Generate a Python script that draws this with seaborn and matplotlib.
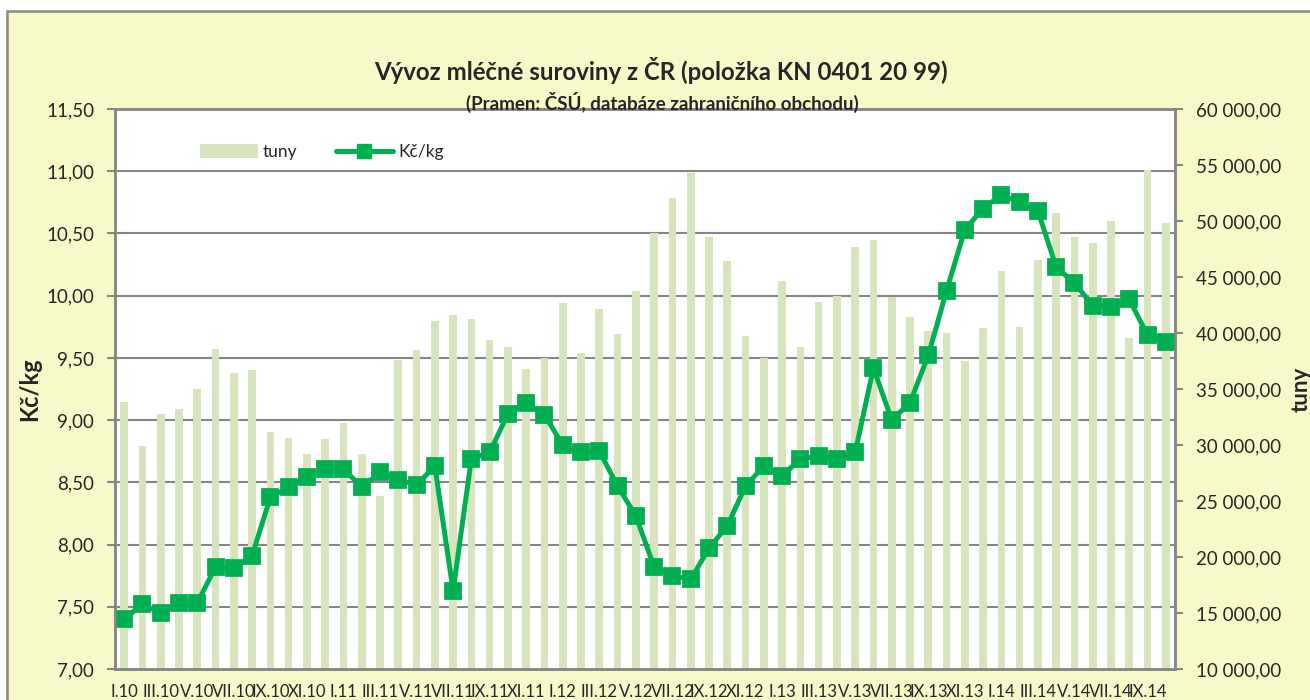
import numpy as np
import pandas as pd
import matplotlib
matplotlib.use('Agg')
import matplotlib.pyplot as plt
import seaborn as sns
from matplotlib.patches import Patch, Rectangle
from matplotlib.lines import Line2D
from matplotlib.ticker import FuncFormatter

# months I.10 .. X.14
roman = ['I', 'II', 'III', 'IV', 'V', 'VI', 'VII', 'VIII', 'IX', 'X', 'XI', 'XII']
years = ['10', '11', '12', '13', '14']
months = [f'{r}.{y}' for y in years for r in roman][:58]

# export price, Kč/kg
kc_kg = [7.40, 7.52, 7.45, 7.53, 7.53, 7.82, 7.81, 7.91, 8.38, 8.46, 8.54, 8.61,
         8.61, 8.46, 8.58, 8.52, 8.48, 8.63, 7.63, 8.69, 8.74, 9.05, 9.14, 9.04,
         8.80, 8.74, 8.75, 8.47, 8.23, 7.82, 7.75, 7.72, 7.97, 8.15, 8.47, 8.63,
         8.55, 8.69, 8.71, 8.69, 8.74, 9.42, 9.00, 9.14, 9.52, 10.04, 10.53, 10.70,
         10.81, 10.75, 10.68, 10.23, 10.10, 9.92, 9.91, 9.97, 9.68, 9.63]

# export volume, tonnes
tuny = [33830, 29870, 32730, 33170, 34960, 38560, 36470, 36710, 31180, 30590, 29240, 30560,
        31990, 29240, 25490, 37600, 38490, 41110, 41580, 41290, 39360, 38760, 36770, 37810,
        42710, 38190, 42110, 39890, 43750, 48940, 52060, 54330, 48530, 46390, 39730, 37780,
        44670, 38760, 42770, 43300, 47640, 48300, 43240, 41470, 40190, 40040, 37510, 40420,
        45530, 40570, 46480, 50670, 48590, 48000, 49960, 39590, 54530, 49840]

df = pd.DataFrame({'mesic': months, 'kc_kg': kc_kg, 'tuny': tuny})

left_ticks = np.arange(7.0, 11.51, 0.5)
right_ticks = np.arange(10000, 60001, 5000)

BG = '#F7FAC8'
GRID = '#868686'
BAR = '#D7E4BD'
LINE = '#00B050'

sns.set_style('white')
plt.rcParams['font.family'] = ['Lato', 'DejaVu Sans']

fig = plt.figure(figsize=(13.1, 7.0), dpi=100)
fig.patch.set_facecolor('white')
# chart area frame, behind everything
fig.patches.append(Rectangle((7 / 1310, -0.05), 1.1, 1 - 11 / 700 + 0.05, transform=fig.transFigure,
                             facecolor=BG, edgecolor=GRID, linewidth=1.8, zorder=-10))

ax_bar = fig.add_axes([115 / 1310, 1 - 669 / 700, 1060 / 1310, 560 / 700])
ax_bar.set_facecolor('white')
sns.barplot(data=df, x='mesic', y='tuny', ax=ax_bar, color=BAR, width=0.42,
            saturation=1, edgecolor='none')
ax_bar.set_ylim(10000, 60000)

ax_line = ax_bar.twinx()
sns.pointplot(data=df, x='mesic', y='kc_kg', ax=ax_line, color=LINE, markers='s',
              linestyles='-', errorbar=None, markersize=10, linewidth=3.6)
ax_line.set_ylim(7.0, 11.5)

# axes sides: price on the left, tonnes on the right
ax_line.yaxis.tick_left()
ax_line.yaxis.set_label_position('left')
ax_bar.yaxis.tick_right()
ax_bar.yaxis.set_label_position('right')

for a in (ax_bar, ax_line):
    a.set_xlim(-0.5, len(months) - 0.5)
    a.set_xlabel('')
    a.set_ylabel('')

# grid follows the left axis, drawn behind the bars
grid_vals = 10000 + (left_ticks - 7.0) * (50000 / 4.5)
ax_bar.set_yticks(grid_vals, minor=True)
ax_bar.grid(which='minor', axis='y', color=GRID, linewidth=1.5)
ax_bar.set_axisbelow(True)
ax_bar.tick_params(axis='y', which='minor', length=0)

ax_bar.set_yticks(right_ticks)
ax_bar.yaxis.set_major_formatter(FuncFormatter(
    lambda v, p: f'{v:,.2f}'.replace(',', ' ').replace('.', ',')))
ax_line.set_yticks(left_ticks)
ax_line.yaxis.set_major_formatter(FuncFormatter(lambda v, p: f'{v:.2f}'.replace('.', ',')))

# x labels every second month, ticks on category boundaries
ax_bar.set_xticks(np.arange(0, len(months), 2))
ax_bar.set_xticklabels(months[::2])
ax_bar.set_xticks(np.arange(-0.5, len(months), 2), minor=True)
ax_bar.tick_params(axis='x', which='major', length=0, pad=11, labelsize=12)
ax_bar.tick_params(axis='x', which='minor', length=6, width=1.5, color=GRID, direction='out')
ax_line.tick_params(axis='x', which='both', length=0, labelbottom=False)

ax_bar.tick_params(axis='y', which='major', length=6, width=1.5, color=GRID, direction='out',
                   pad=9, labelsize=13.5, right=True, left=False)
ax_line.tick_params(axis='y', which='major', length=6, width=1.5, color=GRID, direction='out',
                    pad=9, labelsize=13.5, left=True, right=False)

for a in (ax_bar, ax_line):
    for s in a.spines.values():
        s.set_color(GRID)
        s.set_linewidth(1.8)
        s.set_visible(True)

handles = [Patch(facecolor=BAR, edgecolor='none', label='tuny'),
           Line2D([0], [0], color=LINE, linewidth=3.6, marker='s', markersize=10, label='Kč/kg')]
ax_line.legend(handles=handles, loc='center left', bbox_to_anchor=(0.074, 0.923), ncol=2,
               frameon=False, fontsize=12.5, handlelength=3.3, handleheight=0.8,
               columnspacing=2.2, handletextpad=0.3, borderaxespad=0)

fig.text(661 / 1310, 1 - 70 / 700, 'Vývoz mléčné suroviny z ČR (položka KN 0401 20 99)',
         ha='center', va='center', fontsize=17.3, fontweight='bold')
fig.text(662 / 1310, 1 - 102 / 700, '(Pramen: ČSÚ, databáze zahraničního obchodu)',
         ha='center', va='center', fontsize=13.5, fontweight='bold')
fig.text(30 / 1310, 1 - 389 / 700, 'Kč/kg', rotation=90, ha='center', va='center',
         fontsize=17, fontweight='bold')
fig.text(1301 / 1310, 1 - 389 / 700, 'tuny', rotation=90, ha='center', va='center',
         fontsize=16, fontweight='bold')

fig.savefig('out.png', dpi=100, facecolor=fig.get_facecolor())
